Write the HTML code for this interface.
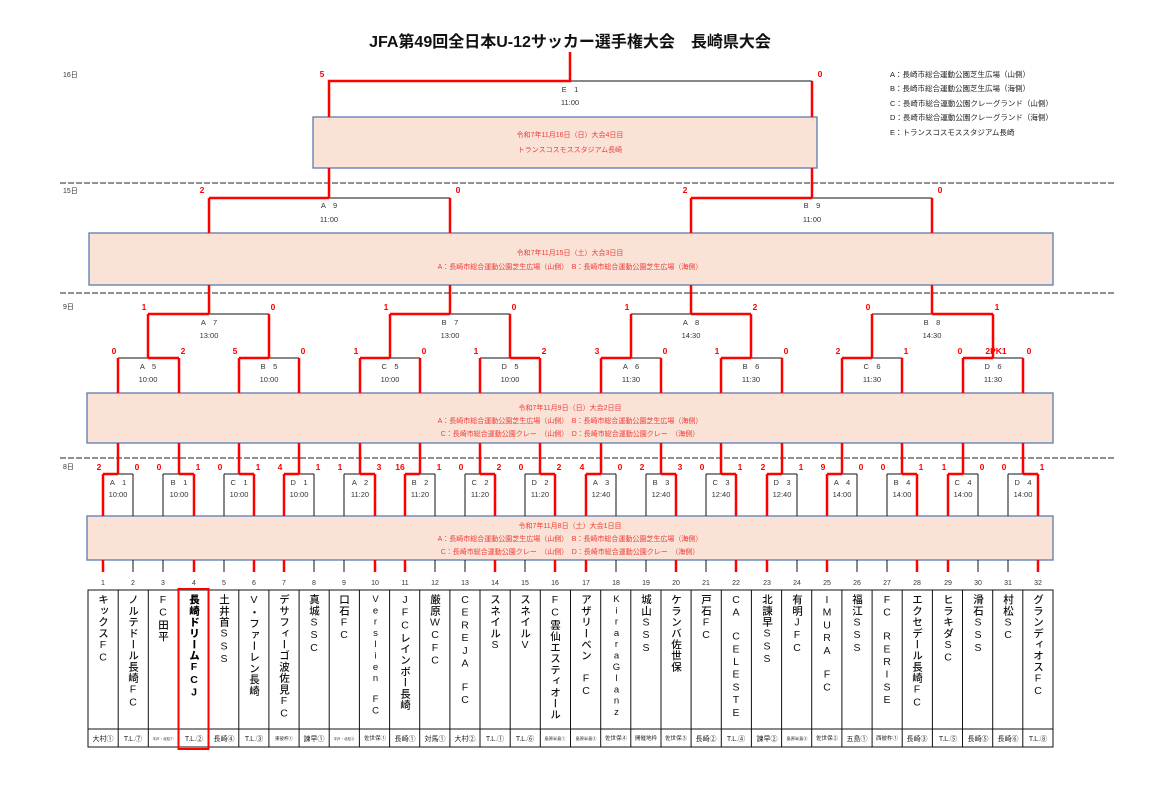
<!DOCTYPE html>
<html><head><meta charset="utf-8"><style>
body{margin:0;background:#fff;width:1152px;height:805px;overflow:hidden;position:relative;font-family:"Liberation Sans","Noto Sans CJK JP",sans-serif}
svg{position:absolute;left:0;top:0}
.n{position:absolute;top:594px;width:14px;writing-mode:vertical-rl;text-orientation:upright;font-size:10.5px;line-height:14px;letter-spacing:0.7px;color:#111;font-family:"Liberation Sans","Noto Sans CJK JP",sans-serif;font-weight:500}
.s{font-size:9.5px;letter-spacing:0.3px}
</style></head><body>
<svg width="1152" height="805" viewBox="0 0 1152 805" font-family="Liberation Sans, Noto Sans CJK JP, sans-serif">
<text x="570" y="47" text-anchor="middle" font-size="16" font-weight="bold" fill="#111">JFA第49回全日本U-12サッカー選手権大会　長崎県大会</text>
<g font-size="7.5" fill="#222">
<text x="890" y="77">A：長崎市総合運動公園芝生広場（山側）</text>
<text x="890" y="91">B：長崎市総合運動公園芝生広場（海側）</text>
<text x="890" y="106">C：長崎市総合運動公園クレーグランド（山側）</text>
<text x="890" y="120">D：長崎市総合運動公園クレーグランド（海側）</text>
<text x="890" y="135">E：トランスコスモススタジアム長崎</text>
</g>
<g font-size="7" fill="#333"><text x="63" y="77">16日</text><text x="63" y="193">15日</text><text x="63" y="309">9日</text><text x="63" y="469">8日</text></g>
<g stroke="#222" stroke-width="1" stroke-dasharray="6,2"><path d="M60 183H1115M60 293H1115M60 458H1115"/></g>
<g fill="#fae3d6" stroke="#5b7bb0" stroke-width="1.3">
<rect x="313" y="117" width="504" height="51"/>
<rect x="89" y="233" width="964" height="52"/>
<rect x="87" y="393" width="966" height="50"/>
<rect x="87" y="516" width="966" height="44"/>
</g>
<g font-size="7" fill="#ee3b3b" text-anchor="middle">
<text x="570" y="137">令和7年11月16日（日）大会4日目</text>
<text x="570" y="152">トランスコスモススタジアム長崎</text>
<text x="570" y="255">令和7年11月15日（土）大会3日目</text>
<text x="570" y="269">A：長崎市総合運動公園芝生広場（山側）　B：長崎市総合運動公園芝生広場（海側）</text>
<text x="570" y="410">令和7年11月9日（日）大会2日目</text>
<text x="570" y="423">A：長崎市総合運動公園芝生広場（山側）　B：長崎市総合運動公園芝生広場（海側）</text>
<text x="570" y="436">C：長崎市総合運動公園クレー　（山側）　D：長崎市総合運動公園クレー　（海側）</text>
<text x="570" y="528">令和7年11月8日（土）大会1日目</text>
<text x="570" y="541">A：長崎市総合運動公園芝生広場（山側）　B：長崎市総合運動公園芝生広場（海側）</text>
<text x="570" y="554">C：長崎市総合運動公園クレー　（山側）　D：長崎市総合運動公園クレー　（海側）</text>
</g>
<g stroke="#111" stroke-width="1" fill="none">
<path d="M329 81H812M209 198H450M691 198H932M148 314H269M390 314H510M631 314H751M872 314H993"/>
<path d="M118 358H179M239 358H299M360 358H420M480 358H540M601 358H661M721 358H782M842 358H902M963 358H1023"/>
<path d="M103 474H133M163 474H194M224 474H254M284 474H314M344 474H375M405 474H435M465 474H495M525 474H555M586 474H616M646 474H676M706 474H736M767 474H797M827 474H857M887 474H917M948 474H978M1008 474H1038"/>
<path d="M133 474V516M133 560V572M163 474V516M163 560V572M224 474V516M224 560V572M314 474V516M314 560V572M344 474V516M344 560V572M435 474V516M435 560V572M465 474V516M465 560V572M525 474V516M525 560V572M616 474V516M616 560V572M646 474V516M646 560V572M706 474V516M706 560V572M797 474V516M797 560V572M857 474V516M857 560V572M887 474V516M887 560V572M978 474V516M978 560V572M1008 474V516M1008 560V572"/>
</g>
<g stroke="#ff0000" stroke-width="2.5" fill="none">
<path d="M570 52V81H329V117M812 81V117M329 168V198M812 168V198"/>
<path d="M209 198H329M691 198H812M209 198V233M450 198V233M691 198V233M932 198V233"/>
<path d="M209 285V314M450 285V314M691 285V314M932 285V314M148 314H209M390 314H450M691 314H751M932 314H993"/>
<path d="M148 314V358M269 314V358M390 314V358M510 314V358M631 314V358M751 314V358M872 314V358M993 314V358"/>
<path d="M148 358H179M239 358H269M360 358H390M510 358H540M601 358H631M721 358H751M842 358H872M963 358H993"/>
<path d="M118 358V393M179 358V393M239 358V393M299 358V393M360 358V393M420 358V393M480 358V393M540 358V393M601 358V393M661 358V393M721 358V393M782 358V393M842 358V393M902 358V393M963 358V393M1023 358V393"/>
<path d="M118 443V474M179 443V474M239 443V474M299 443V474M360 443V474M420 443V474M480 443V474M540 443V474M601 443V474M661 443V474M721 443V474M782 443V474M842 443V474M902 443V474M963 443V474M1023 443V474"/>
<path d="M103 474H118M179 474H194M239 474H254M284 474H299M360 474H375M405 474H420M480 474H495M540 474H555M586 474H601M661 474H676M721 474H736M767 474H782M827 474H842M902 474H917M948 474H963M1023 474H1038"/>
<path d="M103 474V516M103 560V572M194 474V516M194 560V572M254 474V516M254 560V572M284 474V516M284 560V572M375 474V516M375 560V572M405 474V516M405 560V572M495 474V516M495 560V572M555 474V516M555 560V572M586 474V516M586 560V572M676 474V516M676 560V572M736 474V516M736 560V572M767 474V516M767 560V572M827 474V516M827 560V572M917 474V516M917 560V572M948 474V516M948 560V572M1038 474V516M1038 560V572"/>
</g>
<g font-size="8.5" font-weight="bold" fill="#ff0000" text-anchor="middle">
<text x="322" y="77">5</text><text x="820" y="77">0</text>
<text x="202" y="193">2</text><text x="458" y="193">0</text><text x="685" y="193">2</text><text x="940" y="193">0</text>
<text x="144" y="310">1</text><text x="273" y="310">0</text><text x="386" y="310">1</text><text x="514" y="310">0</text><text x="627" y="310">1</text><text x="755" y="310">2</text><text x="868" y="310">0</text><text x="997" y="310">1</text>
<text x="114" y="354">0</text><text x="183" y="354">2</text><text x="235" y="354">5</text><text x="303" y="354">0</text><text x="356" y="354">1</text><text x="424" y="354">0</text><text x="476" y="354">1</text><text x="544" y="354">2</text><text x="597" y="354">3</text><text x="665" y="354">0</text><text x="717" y="354">1</text><text x="786" y="354">0</text><text x="838" y="354">2</text><text x="906" y="354">1</text><text x="960" y="354">0</text><text x="996" y="354">2PK1</text><text x="1029" y="354">0</text>
<text x="99" y="470">2</text><text x="137" y="470">0</text><text x="159" y="470">0</text><text x="198" y="470">1</text><text x="220" y="470">0</text><text x="258" y="470">1</text><text x="280" y="470">4</text><text x="318" y="470">1</text><text x="340" y="470">1</text><text x="379" y="470">3</text><text x="400" y="470">16</text><text x="439" y="470">1</text><text x="461" y="470">0</text><text x="499" y="470">2</text><text x="521" y="470">0</text><text x="559" y="470">2</text><text x="582" y="470">4</text><text x="620" y="470">0</text><text x="642" y="470">2</text><text x="680" y="470">3</text><text x="702" y="470">0</text><text x="740" y="470">1</text><text x="763" y="470">2</text><text x="801" y="470">1</text><text x="823" y="470">9</text><text x="861" y="470">0</text><text x="883" y="470">0</text><text x="921" y="470">1</text><text x="944" y="470">1</text><text x="982" y="470">0</text><text x="1004" y="470">0</text><text x="1042" y="470">1</text>
</g>
<g font-size="7.5" fill="#333" text-anchor="middle">
<text x="570" y="92">E　1</text><text x="570" y="105">11:00</text>
<text x="329" y="208">A　9</text><text x="329" y="222">11:00</text><text x="812" y="208">B　9</text><text x="812" y="222">11:00</text>
<text x="209" y="325">A　7</text><text x="209" y="338">13:00</text><text x="450" y="325">B　7</text><text x="450" y="338">13:00</text><text x="691" y="325">A　8</text><text x="691" y="338">14:30</text><text x="932" y="325">B　8</text><text x="932" y="338">14:30</text>
<text x="148" y="369">A　5</text><text x="148" y="382">10:00</text><text x="269" y="369">B　5</text><text x="269" y="382">10:00</text><text x="390" y="369">C　5</text><text x="390" y="382">10:00</text><text x="510" y="369">D　5</text><text x="510" y="382">10:00</text>
<text x="631" y="369">A　6</text><text x="631" y="382">11:30</text><text x="751" y="369">B　6</text><text x="751" y="382">11:30</text><text x="872" y="369">C　6</text><text x="872" y="382">11:30</text><text x="993" y="369">D　6</text><text x="993" y="382">11:30</text>
<text x="118" y="485">A　1</text><text x="118" y="497">10:00</text><text x="179" y="485">B　1</text><text x="179" y="497">10:00</text><text x="239" y="485">C　1</text><text x="239" y="497">10:00</text><text x="299" y="485">D　1</text><text x="299" y="497">10:00</text>
<text x="360" y="485">A　2</text><text x="360" y="497">11:20</text><text x="420" y="485">B　2</text><text x="420" y="497">11:20</text><text x="480" y="485">C　2</text><text x="480" y="497">11:20</text><text x="540" y="485">D　2</text><text x="540" y="497">11:20</text>
<text x="601" y="485">A　3</text><text x="601" y="497">12:40</text><text x="661" y="485">B　3</text><text x="661" y="497">12:40</text><text x="721" y="485">C　3</text><text x="721" y="497">12:40</text><text x="782" y="485">D　3</text><text x="782" y="497">12:40</text>
<text x="842" y="485">A　4</text><text x="842" y="497">14:00</text><text x="902" y="485">B　4</text><text x="902" y="497">14:00</text><text x="963" y="485">C　4</text><text x="963" y="497">14:00</text><text x="1023" y="485">D　4</text><text x="1023" y="497">14:00</text>
</g>
<g font-size="7" fill="#333" text-anchor="middle">
<text x="103" y="585">1</text><text x="133" y="585">2</text><text x="163" y="585">3</text><text x="194" y="585">4</text><text x="224" y="585">5</text><text x="254" y="585">6</text><text x="284" y="585">7</text><text x="314" y="585">8</text><text x="344" y="585">9</text><text x="375" y="585">10</text><text x="405" y="585">11</text><text x="435" y="585">12</text><text x="465" y="585">13</text><text x="495" y="585">14</text><text x="525" y="585">15</text><text x="555" y="585">16</text><text x="586" y="585">17</text><text x="616" y="585">18</text><text x="646" y="585">19</text><text x="676" y="585">20</text><text x="706" y="585">21</text><text x="736" y="585">22</text><text x="767" y="585">23</text><text x="797" y="585">24</text><text x="827" y="585">25</text><text x="857" y="585">26</text><text x="887" y="585">27</text><text x="917" y="585">28</text><text x="948" y="585">29</text><text x="978" y="585">30</text><text x="1008" y="585">31</text><text x="1038" y="585">32</text>
</g>
<g stroke="#111" stroke-width="1" fill="none">
<rect x="88" y="590" width="965" height="157"/>
<path d="M88 729H1053"/>
<path d="M118.2 590V747M148.3 590V747M178.5 590V747M208.6 590V747M238.8 590V747M268.9 590V747M299.1 590V747M329.2 590V747M359.4 590V747M389.6 590V747M419.7 590V747M449.9 590V747M480 590V747M510.2 590V747M540.3 590V747M570.5 590V747M600.7 590V747M630.8 590V747M661 590V747M691.1 590V747M721.3 590V747M751.4 590V747M781.6 590V747M811.7 590V747M841.9 590V747M872.1 590V747M902.2 590V747M932.4 590V747M962.5 590V747M992.7 590V747M1022.8 590V747"/>
</g>
<rect x="178.5" y="589" width="30" height="160" fill="none" stroke="#ff0000" stroke-width="2"/>
<g font-size="7" fill="#222" text-anchor="middle">
<text x="103" y="741">大村①</text><text x="133" y="741">T.L.⑦</text><text x="163" y="740" font-size="3.5">平戸・北松①</text><text x="194" y="741">T.L.②</text><text x="224" y="741">長崎④</text><text x="254" y="741">T.L.③</text><text x="284" y="740" font-size="4.5">東彼杵①</text><text x="314" y="741">諫早①</text><text x="344" y="740" font-size="3.5">平戸・北松②</text><text x="375" y="740" font-size="5.5">佐世保①</text><text x="405" y="741">長崎①</text><text x="435" y="741">対馬①</text><text x="465" y="741">大村②</text><text x="495" y="741">T.L.①</text><text x="525" y="741">T.L.⑥</text><text x="555" y="740" font-size="4.2">島原半島①</text>
<text x="586" y="740" font-size="4.2">島原半島②</text><text x="616" y="740" font-size="5.5">佐世保④</text><text x="646" y="740" font-size="5.5">開催地枠</text><text x="676" y="740" font-size="5.5">佐世保③</text><text x="706" y="741">長崎②</text><text x="736" y="741">T.L.④</text><text x="767" y="741">諫早②</text><text x="797" y="740" font-size="4.2">島原半島③</text><text x="827" y="740" font-size="5.5">佐世保②</text><text x="857" y="741">五島①</text><text x="887" y="740" font-size="5.5">西彼杵①</text><text x="917" y="741">長崎③</text><text x="948" y="741">T.L.⑤</text><text x="978" y="741">長崎⑤</text><text x="1008" y="741">長崎⑥</text><text x="1038" y="741">T.L.⑧</text>
</g>
</svg>
<div class="n" style="left:96px">キックスFC</div>
<div class="n" style="left:126px">ノルテドール長崎FC</div>
<div class="n" style="left:156px">FC田平</div>
<div class="n" style="left:187px;font-weight:900;color:#000">長崎ドリームFCJ</div>
<div class="n" style="left:217px">土井首SSS</div>
<div class="n" style="left:247px">V・ファーレン長崎</div>
<div class="n" style="left:277px">デサフィーゴ波佐見FC</div>
<div class="n" style="left:307px">真城SSC</div>
<div class="n" style="left:337px">口石FC</div>
<div class="n s" style="left:368px">Verslien　FC</div>
<div class="n" style="left:398px">JFCレインボー長崎</div>
<div class="n" style="left:428px">厳原WCFC</div>
<div class="n" style="left:458px">CEREJA　FC</div>
<div class="n" style="left:488px">スネイルS</div>
<div class="n" style="left:518px">スネイルV</div>
<div class="n" style="left:548px">FC雲仙エスティオール</div>
<div class="n" style="left:579px">アザリーベン　FC</div>
<div class="n s" style="left:609px">KiraraGlanz</div>
<div class="n" style="left:639px">城山SSS</div>
<div class="n" style="left:669px">ケランバ佐世保</div>
<div class="n" style="left:699px">戸石FC</div>
<div class="n" style="left:729px">CA　CELESTE</div>
<div class="n" style="left:760px">北諫早SSS</div>
<div class="n" style="left:790px">有明JFC</div>
<div class="n" style="left:820px">IMURA　FC</div>
<div class="n" style="left:850px">福江SSS</div>
<div class="n" style="left:880px">FC　RERISE</div>
<div class="n" style="left:910px">エクセデール長崎FC</div>
<div class="n" style="left:941px">ヒラキダSC</div>
<div class="n" style="left:971px">滑石SSS</div>
<div class="n" style="left:1001px">村松SC</div>
<div class="n" style="left:1031px">グランディオスFC</div>
</body></html>
